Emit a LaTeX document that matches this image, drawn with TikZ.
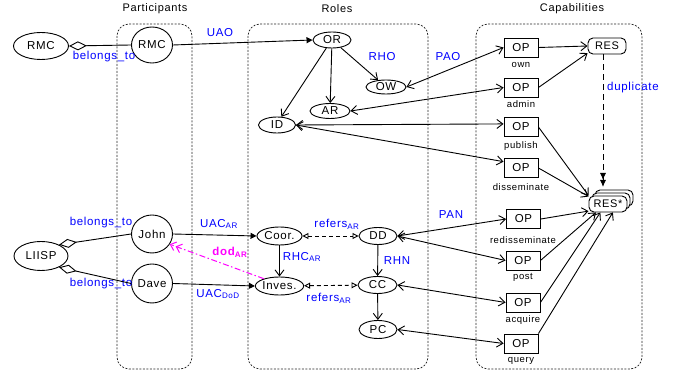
\documentclass[tikz,border=0pt]{standalone}
\usepackage{fontspec}
\setmainfont{Liberation Sans}[LetterSpace=6]
\usetikzlibrary{arrows.meta,shapes.geometric,shadows}
\definecolor{mag}{RGB}{255,0,255}
\definecolor{lblue}{RGB}{0,0,255}
\begin{document}
\begin{tikzpicture}[x=1pt,y=-1pt,line width=0.9pt,
  el/.style={draw,ellipse,fill=white,inner sep=0pt,font=\fontsize{11.5}{13}\selectfont},
  opbox/.style={draw,rectangle,fill=white,minimum width=34pt,minimum height=19pt,inner sep=0pt,font=\fontsize{11.5}{13}\selectfont},
  resbox/.style={draw,rectangle,rounded corners=5pt,fill=white,minimum width=38pt,minimum height=16pt,inner sep=0pt,font=\fontsize{11}{12}\selectfont},
  oplbl/.style={font=\fontsize{9.5}{11}\selectfont,inner sep=0pt},
  bl/.style={text=lblue,font=\fontsize{11.5}{13}\selectfont,inner sep=0pt},
  ttl/.style={font=\fontsize{11}{13}\selectfont,inner sep=0pt},
  grp/.style={draw=black!85,line width=0.7pt,dash pattern=on 2pt off 1.5pt,rounded corners=12pt},
  arr/.style={-{Straight Barb[length=6pt,width=9pt]}},
  darr/.style={{Straight Barb[length=6pt,width=9pt]}-{Straight Barb[length=6pt,width=9pt]}},
  farr/.style={-{Triangle[length=6pt,width=6pt]}},
  trid/.style={{Triangle[open,length=6pt,width=6pt]}-{Triangle[open,length=6pt,width=6pt]},dash pattern=on 4pt off 3pt},
  agg/.style={{Diamond[open,length=18pt,width=9pt]}-},
]
\useasboundingbox (0,0) rectangle (681,379);
% groups
\draw[grp] (117,24) rectangle (192,369);
\draw[grp] (248,24) rectangle (428,369);
\draw[grp] (476,24) rectangle (642,369);
\node[ttl] (tpart) at (155,9) {Participants};
\node[ttl] (troles) at (337,9) {Roles};
\node[ttl] (tcap) at (572,9) {Capabilities};
% participants
\node[el,minimum width=55pt,minimum height=27pt] (rmco) at (41,46) {RMC};
\node[el,minimum width=41pt,minimum height=36pt] (rmc) at (152,45) {RMC};
\node[el,minimum width=54pt,minimum height=29pt] (liisp) at (41,256) {LIISP};
\node[el,minimum width=41pt,minimum height=38pt] (john) at (152,234) {John};
\node[el,minimum width=41pt,minimum height=39pt] (dave) at (152,283.5) {Dave};
% roles
\node[el,minimum width=38pt,minimum height=16pt] (or) at (332,40) {OR};
\node[el,minimum width=40pt,minimum height=14pt] (ow) at (386,87) {OW};
\node[el,minimum width=40pt,minimum height=15pt] (ar) at (330,111) {AR};
\node[el,minimum width=37pt,minimum height=16pt] (id) at (277,125) {ID};
\node[el,minimum width=45pt,minimum height=18pt] (coor) at (279.5,236) {Coor.};
\node[el,minimum width=38pt,minimum height=17pt] (dd) at (378,236) {DD};
\node[el,minimum width=47pt,minimum height=18pt] (inves) at (279.5,286) {Inves.};
\node[el,minimum width=39pt,minimum height=17pt] (cc) at (377.5,285) {CC};
\node[el,minimum width=38pt,minimum height=18pt] (pc) at (378,329.5) {PC};
% capabilities
\node[opbox] (own) at (521,47.5) {OP};
\node[opbox] (admin) at (521,87.5) {OP};
\node[opbox] (publish) at (521,127) {OP};
\node[opbox] (dissem) at (521,168) {OP};
\node[opbox] (redissem) at (523.5,219) {OP};
\node[opbox] (post) at (523,260.5) {OP};
\node[opbox] (acquire) at (523,302.5) {OP};
\node[opbox] (query) at (521,343.5) {OP};
\node[oplbl] (lown) at (521,65) {own};
\node[oplbl] (ladmin) at (521,104) {admin};
\node[oplbl] (lpublish) at (521,146) {publish};
\node[oplbl] (ldissem) at (521,187) {disseminate};
\node[oplbl] (lredissem) at (523,240) {redisseminate};
\node[oplbl] (lpost) at (523,277) {post};
\node[oplbl] (lacquire) at (523,320) {acquire};
\node[oplbl] (lquery) at (521,361) {query};
\node[resbox] (res) at (607,46) {RES};
\node[resbox,double copy shadow={shadow xshift=3pt,shadow yshift=3pt,fill=white,draw=black}] (resstar) at (608,204) {RES*};
% labels
\node[bl] (lb1) at (104,57) {belongs\_to};
\node[bl] (lb2) at (101,223) {belongs\_to};
\node[bl] (lb3) at (101,284) {belongs\_to};
\node[bl] (luao) at (220,33) {UAO};
\node[bl] (lrho) at (382,57) {RHO};
\node[bl] (lpao) at (448,57) {PAO};
\node[bl] (ldup) at (633,88) {duplicate};
\node[bl] (luacar) at (219,224) {UAC\textsubscript{AR}};
\node[bl] (luacdod) at (218,294) {UAC\textsubscript{DoD}};
\node[bl] (lref1) at (337,224) {refers\textsubscript{AR}};
\node[bl] (lref2) at (329,298) {refers\textsubscript{AR}};
\node[bl] (lrhc) at (302,257) {RHC\textsubscript{AR}};
\node[bl] (lrhn) at (397,261) {RHN};
\node[bl] (lpan) at (451,215) {PAN};
\node[inner sep=0pt,text=mag,font=\fontsize{11.5}{13}\selectfont\bfseries] (ldod) at (230,252) {dod\textsubscript{AR}};
% connectors
\draw[agg] (rmco.east) -- (rmc.west);
\draw[agg] (liisp.32) -- (john.west);
\draw[agg] (liisp.-32) -- (dave.west);
\draw[farr] (rmc.east) -- (or.west);
\draw[arr] (or.235) -- (id.62);
\draw[arr] (or) -- (ar);
\draw[arr] (or) -- (ow);
\draw[darr] (ow.east) -- (own.west);
\draw[darr] (ar.east) -- (admin.west);
\draw[darr] (id.east) -- (publish.170);
\draw[darr] (id.east) -- (dissem.160);
\draw[arr] (own.east) -- (res.west);
\draw[arr] (admin.east) -- (res.200);
\draw[arr] (publish.east) -- (resstar.north west);
\draw[arr] (dissem.east) -- (resstar.159);
\draw[arr] (redissem.east) -- (resstar.200);
\draw[arr] (post.east) -- (resstar.215);
\draw[arr] (acquire.east) -- (resstar.228);
\draw[arr] (query.north east) -- (resstar.300);
\coordinate (dupend) at (603,187);
\draw[dash pattern=on 6pt off 4pt,-{Latex[length=7pt,width=6pt] Latex[length=7pt,width=6pt]}] (res.south -| dupend) -- (dupend);
\draw[darr] (dd.east) -- (redissem.west);
\draw[darr] (dd.east) -- (post.west);
\draw[darr] (cc.east) -- (acquire.west);
\draw[darr] (pc.east) -- (query.west);
\draw[trid] (coor) -- (dd);
\draw[trid] (inves) -- (cc);
\draw[arr] (coor) -- (inves);
\draw[arr] (dd) -- (cc);
\draw[arr] (cc) -- (pc);
\draw[farr] (john.east) -- (coor.west);
\draw[farr] (dave.east) -- (inves.west);
\draw[mag,line width=1pt,dash pattern=on 6pt off 2.5pt on 1.5pt off 2.5pt,-{Straight Barb[length=5pt,width=9pt] Straight Barb[length=5pt,width=9pt]}] (inves.155) -- (john.330);
\end{tikzpicture}
\end{document}
